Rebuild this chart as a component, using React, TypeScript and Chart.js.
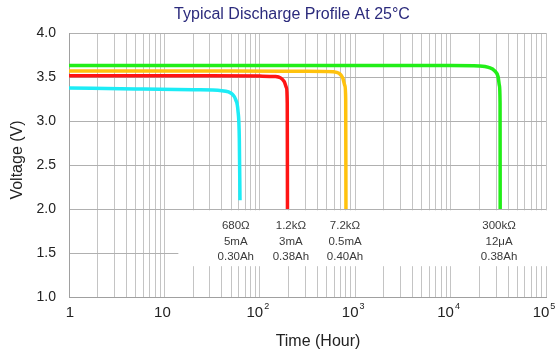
import React, { useEffect, useRef } from 'react';
import { Chart, registerables } from 'chart.js';

Chart.register(...registerables);

const TITLE = 'Typical Discharge Profile At 25°C';
const X_TITLE = 'Time (Hour)';
const Y_TITLE = 'Voltage (V)';

// Discharge curves (hours, volts)
const cyanHours = [1, 5, 20, 40, 47, 52, 56, 59, 61, 62];
const cyanVolts = [3.375, 3.365, 3.355, 3.345, 3.33, 3.3, 3.24, 3.12, 2.8, 2.1];

const redHours = [1, 30, 100, 145, 165, 180, 190, 194, 195];
const redVolts = [3.515, 3.513, 3.51, 3.505, 3.49, 3.45, 3.38, 3.2, 2.0];

const orangeHours = [1, 50, 300, 590, 680, 740, 780, 795, 800];
const orangeVolts = [3.568, 3.567, 3.565, 3.56, 3.54, 3.49, 3.4, 3.25, 2.0];

const greenHours = [1, 100, 10000, 20000, 25000, 29000, 31500, 32500, 33000, 33100];
const greenVolts = [3.63, 3.63, 3.63, 3.625, 3.61, 3.57, 3.5, 3.4, 3.2, 2.0];

// Axis ticks
const yMin = 1.0;
const yMax = 4.0;
const yStep = 0.5;
const xMin = 1;
const xMax = 100000;
const decadeValues = [1, 10, 100, 1000, 10000, 100000];
const decadeBase = ['1', '10', '10', '10', '10', '10'];
const decadeExp = ['', '', '2', '3', '4', '5'];

// Annotations
const annoHours = [56, 212, 782, 32200];
const annoResistance = ['680Ω', '1.2kΩ', '7.2kΩ', '300kΩ'];
const annoCurrent = ['5mA', '3mA', '0.5mA', '12μA'];
const annoCapacity = ['0.30Ah', '0.38Ah', '0.40Ah', '0.38Ah'];
const annoRowVolts = [1.807, 1.625, 1.455];
const annoBoxXMin = 14;
const annoBoxYTop = 1.985;
const annoBoxYBottom = 1.35;

const FONT = '"Liberation Sans", Arial, sans-serif';

function makeMinorTicks() {
  const vals: number[] = [];
  for (let d = 1; d < xMax; d *= 10) {
    for (let m = 1; m < 10; m++) vals.push(d * m);
  }
  vals.push(xMax);
  return vals;
}

function toPoints(xs: number[], ys: number[]) {
  return xs.map((x, i) => ({ x, y: ys[i] }));
}

export default function App() {
  const ref = useRef<HTMLCanvasElement | null>(null);

  useEffect(() => {
    document.body.style.margin = '0';
    const canvas = ref.current;
    if (!canvas) return;

    const textPlugin = {
      id: 'customText',
      beforeDatasetsDraw(chart: any) {
        const { ctx, scales } = chart;
        const x = scales.x;
        const y = scales.y;
        const left = x.getPixelForValue(annoBoxXMin);
        const top = y.getPixelForValue(annoBoxYTop);
        const bottom = y.getPixelForValue(annoBoxYBottom);
        ctx.save();
        ctx.fillStyle = '#ffffff';
        ctx.fillRect(left, top, chart.chartArea.right + 1 - left, bottom - top);
        ctx.restore();
      },
      afterDraw(chart: any) {
        const { ctx, scales, chartArea } = chart;
        const x = scales.x;
        const y = scales.y;
        ctx.save();
        // Title
        ctx.fillStyle = '#2b2a7c';
        ctx.font = `16px ${FONT}`;
        ctx.textAlign = 'center';
        ctx.textBaseline = 'middle';
        ctx.fillText(TITLE, 292, 15);

        // Axis titles
        ctx.fillStyle = '#222222';
        ctx.font = `16px ${FONT}`;
        ctx.fillText(X_TITLE, 318, 342);
        ctx.save();
        ctx.translate(18, 160);
        ctx.rotate(-Math.PI / 2);
        ctx.fillText(Y_TITLE, 0, 0);
        ctx.restore();

        // X tick labels
        decadeValues.forEach((v, i) => {
          const px = x.getPixelForValue(v);
          const base = decadeBase[i];
          const exp = decadeExp[i];
          ctx.font = `15px ${FONT}`;
          const wb = ctx.measureText(base).width;
          ctx.font = `9px ${FONT}`;
          const we = exp ? ctx.measureText(exp).width + 1 : 0;
          const total = wb + we;
          const startX = px - total / 2 - (i === 0 ? -1 : 2);
          ctx.textAlign = 'left';
          ctx.textBaseline = 'middle';
          ctx.font = `15px ${FONT}`;
          ctx.fillStyle = '#222222';
          ctx.fillText(base, startX, chartArea.bottom + 16);
          if (exp) {
            ctx.font = `9px ${FONT}`;
            ctx.fillText(exp, startX + wb + 1, chartArea.bottom + 10);
          }
        });

        // Annotations
        ctx.fillStyle = '#3a3a3a';
        ctx.font = `11.5px ${FONT}`;
        ctx.textAlign = 'center';
        ctx.textBaseline = 'middle';
        annoHours.forEach((h, i) => {
          const px = x.getPixelForValue(h);
          ctx.fillText(annoResistance[i], px, y.getPixelForValue(annoRowVolts[0]));
          ctx.fillText(annoCurrent[i], px, y.getPixelForValue(annoRowVolts[1]));
          ctx.fillText(annoCapacity[i], px, y.getPixelForValue(annoRowVolts[2]));
        });
        ctx.restore();
      },
    };

    const lineStyle = {
      borderWidth: 3.5,
      pointRadius: 0,
      fill: false,
      cubicInterpolationMode: 'monotone' as const,
    };

    const minorTicks = makeMinorTicks();

    const chart = new Chart(canvas, {
      type: 'line',
      data: {
        datasets: [
          { ...lineStyle, label: '300kΩ', data: toPoints(greenHours, greenVolts), borderColor: '#22ee18' },
          { ...lineStyle, label: '7.2kΩ', data: toPoints(orangeHours, orangeVolts), borderColor: '#ffc20e' },
          { ...lineStyle, label: '1.2kΩ', data: toPoints(redHours, redVolts), borderColor: '#ff1414' },
          { ...lineStyle, label: '680Ω', data: toPoints(cyanHours, cyanVolts), borderColor: '#1cecf6' },
        ],
      },
      options: {
        responsive: false,
        animation: false,
        devicePixelRatio: 1,
        layout: { padding: { top: 33, right: 11, left: 0, bottom: 0 } },
        plugins: {
          legend: { display: false },
          title: { display: false },
          tooltip: { enabled: false },
        },
        scales: {
          x: {
            type: 'logarithmic',
            min: xMin,
            max: xMax,
            afterBuildTicks: (scale: any) => {
              scale.ticks = minorTicks.map((v) => ({ value: v }));
            },
            afterFit: (scale: any) => {
              scale.height = 56;
            },
            ticks: { display: false, autoSkip: false },
            grid: { color: '#c4c4c4', lineWidth: 1, drawTicks: false },
            border: { color: '#a0a0a0' },
          },
          y: {
            type: 'linear',
            min: yMin,
            max: yMax,
            afterFit: (scale: any) => {
              scale.width = 69;
            },
            ticks: {
              stepSize: yStep,
              padding: 13,
              color: '#222222',
              font: { family: FONT, size: 14 },
              callback: (v: any) => Number(v).toFixed(1),
            },
            grid: { color: '#b0b0b0', lineWidth: 1, drawTicks: false },
            border: { color: '#a0a0a0' },
          },
        },
      },
      plugins: [textPlugin],
    });

    return () => chart.destroy();
  }, []);

  return (
    <div style={{ position: 'absolute', left: 0, top: 0, width: 557, height: 353 }}>
      <canvas ref={ref} width={557} height={353} style={{ width: 557, height: 353 }} />
    </div>
  );
}
